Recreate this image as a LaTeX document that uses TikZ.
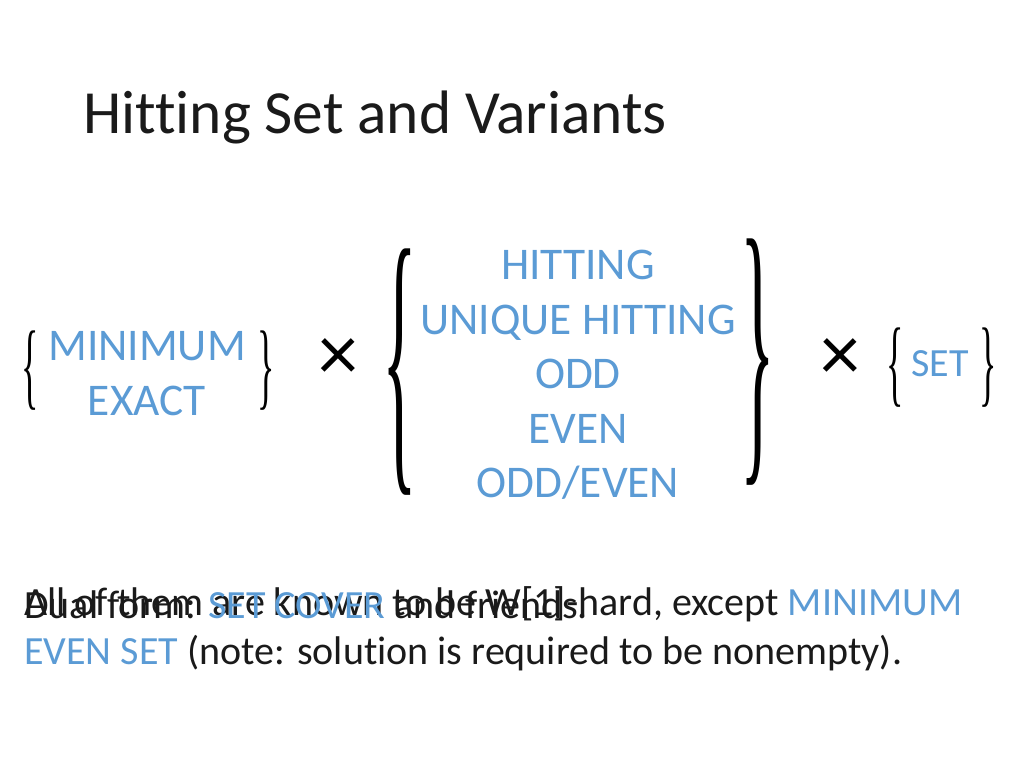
\documentclass[tikz,border=0pt]{standalone}
\usepackage{fontspec}
\setmainfont[Ligatures={NoCommon}]{Carlito}
\newfontfamily\bracefont{Liberation Serif}
\definecolor{blu}{HTML}{5B9BD5}
\definecolor{txt}{HTML}{1A1A1A}
\begin{document}
\begin{tikzpicture}[x=0.75pt,y=-0.75pt,
  bl/.style={text=blu,font=\fontsize{34}{40}\selectfont,inner sep=0pt},
  bt/.style={text=txt,font=\fontsize{30}{36}\selectfont,inner sep=0pt,anchor=base west},
  br/.style={inner sep=0pt,text=black}]
\useasboundingbox (0,0) rectangle (1024,768);
\node[inner sep=0pt,anchor=base west,text=txt,font=\fontsize{46}{52}\selectfont] (title) at (83,133) {Hitting Set and Variants};
% left factor
\node[br] (lb1) at (30,371) {\resizebox{13pt}{50pt}{\bracefont\{}};
\node[br] (rb1) at (266,371) {\resizebox{13pt}{50pt}{\bracefont\}}};
\node[bl,anchor=base] (min) at (147,360) {MINIMUM};
\node[bl,anchor=base] (ex) at (147,415) {EXACT};
\node[br,font=\fontsize{60}{60}\selectfont] (x1) at (338,360) {×};
% middle
\node[br] (lb2) at (400,372) {\resizebox{26pt}{155pt}{\bracefont\{}};
\node[br] (rb2) at (758,362) {\resizebox{26pt}{155pt}{\bracefont\}}};
\node[bl,anchor=base] (h1) at (578,279) {HITTING};
\node[bl,anchor=base] (h2) at (578,334) {UNIQUE HITTING};
\node[bl,anchor=base] (h3) at (578,388) {ODD};
\node[bl,anchor=base] (h4) at (578,443) {EVEN};
\node[bl,anchor=base] (h5) at (578,497) {ODD/EVEN};
\node[br,font=\fontsize{60}{60}\selectfont] (x2) at (840,360) {×};
% right factor
\node[br] (lb3) at (895,368) {\resizebox{13pt}{50pt}{\bracefont\{}};
\node[br] (rb3) at (988,368) {\resizebox{13pt}{50pt}{\bracefont\}}};
\node[bl,anchor=base,font=\fontsize{30}{36}\selectfont] (set) at (940,376) {SET};
% bottom text
\node[bt] (l1) at (24,615) {All of them are known to be W[1]-hard, except \textcolor{blu}{MINIMUM}};
\node[bt] (l2) at (24,664) {\textcolor{blu}{EVEN SET} (note: solution is required to be nonempty).};
\node[bt] (l3) at (24,618) {Dual form: \textcolor{blu}{SET COVER} and friends.};
\end{tikzpicture}
\end{document}
